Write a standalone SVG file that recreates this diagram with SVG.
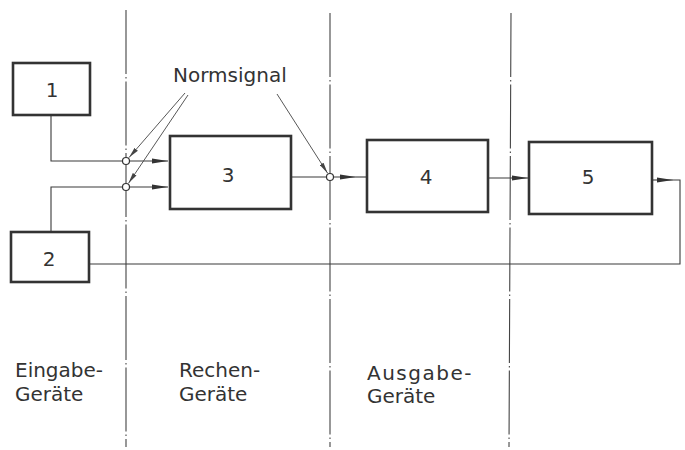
<svg xmlns="http://www.w3.org/2000/svg" width="685" height="450" viewBox="0 0 685 450">
  <style>
    .box { fill: none; stroke: #333; stroke-width: 2.6; }
    .wire { fill: none; stroke: #3a3a3a; stroke-width: 1.1; }
    .lead { fill: none; stroke: #444; stroke-width: 0.9; }
    .sep { stroke: #444; stroke-width: 1.1; stroke-dasharray: 64 3 1.5 3; }
    .node { fill: #fff; stroke: #333; stroke-width: 1.2; }
    text { font-family: "DejaVu Sans", "Liberation Sans", sans-serif; fill: #333; font-size: 20px; }
    .num { text-anchor: middle; }
  </style>
  <defs>
    <marker id="arr" markerUnits="userSpaceOnUse" markerWidth="16" markerHeight="6" refX="16" refY="3" orient="auto">
      <path d="M0,0.4 L16,3 L0,5.6 Z" fill="#333"/>
    </marker>
    <marker id="arrs" markerUnits="userSpaceOnUse" markerWidth="11" markerHeight="5" refX="11" refY="2.5" orient="auto">
      <path d="M0,0.3 L11,2.5 L0,4.7 Z" fill="#444"/>
    </marker>
  </defs>
  <rect width="685" height="450" fill="#fff"/>

  <!-- zone separators (dash-dot) -->
  <g id="separators">
    <line class="sep" x1="126" y1="10" x2="126" y2="447"/>
    <line class="sep" x1="330" y1="13" x2="330" y2="447"/>
    <line class="sep" x1="511" y1="13" x2="509" y2="447"/>
  </g>

  <!-- signal connectors -->
  <g id="connectors">
    <path class="wire" d="M51,115 V161 H168" marker-end="url(#arr)"/>
    <path class="wire" d="M51,232 V187 H168" marker-end="url(#arr)"/>
    <path class="wire" d="M291,177 H356" marker-end="url(#arr)"/>
    <path class="wire" d="M356,177 H367"/>
    <path class="wire" d="M488,178 H528" marker-end="url(#arr)"/>
    <path class="wire" d="M652,180 H673" marker-end="url(#arr)"/>
    <path class="wire" d="M673,180 H680 V264 H89"/>
    <circle class="node" cx="126" cy="161" r="3.5"/>
    <circle class="node" cx="126" cy="187" r="3.5"/>
    <circle class="node" cx="330" cy="177" r="3.5"/>
    <!-- leaders from the label -->
    <path class="lead" d="M185,93 L129,157.6" marker-end="url(#arrs)"/>
    <path class="lead" d="M188,95 L128.5,183.3" marker-end="url(#arrs)"/>
    <path class="lead" d="M277,94 L327.6,173.2" marker-end="url(#arrs)"/>
  </g>

  <g id="label-normsignal">
    <text x="173" y="82">Normsignal</text>
  </g>

  <g id="node-1">
    <rect class="box" x="13" y="63" width="77" height="52"/>
    <text class="num" x="52" y="97">1</text>
  </g>
  <g id="node-2">
    <rect class="box" x="11" y="232" width="78" height="50"/>
    <text class="num" x="49" y="266">2</text>
  </g>
  <g id="node-3">
    <rect class="box" x="170" y="136" width="121" height="73"/>
    <text class="num" x="228" y="182">3</text>
  </g>
  <g id="node-4">
    <rect class="box" x="367" y="140" width="121" height="72"/>
    <text class="num" x="426" y="184">4</text>
  </g>
  <g id="node-5">
    <rect class="box" x="529" y="142" width="123" height="72"/>
    <text class="num" x="588" y="184">5</text>
  </g>

  <!-- zone titles -->
  <g id="zone-labels">
    <text x="15" y="377">Eingabe-</text>
    <text x="15" y="401">Geräte</text>
    <text x="179" y="377">Rechen-</text>
    <text x="179" y="401">Geräte</text>
    <text x="367" y="380" letter-spacing="1.5">Ausgabe-</text>
    <text x="367" y="403">Geräte</text>
  </g>
</svg>
